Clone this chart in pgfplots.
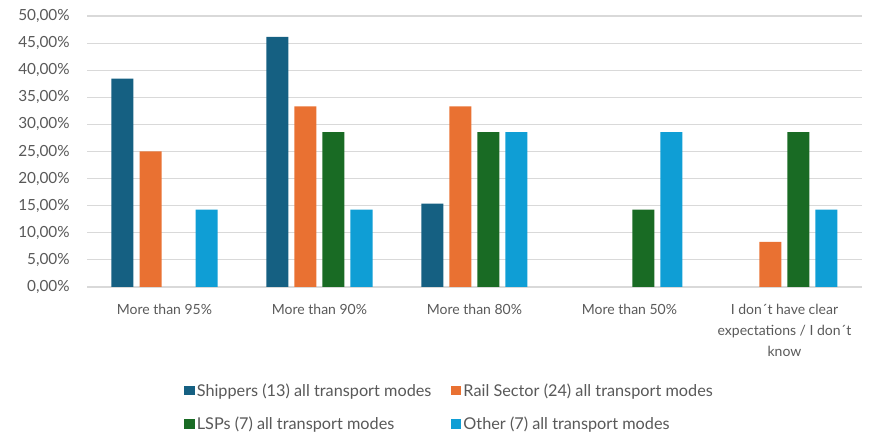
\documentclass[border=0pt]{standalone}
\usepackage{pgfplots}
\pgfplotsset{compat=1.18}
\usepackage{fontspec}
\setmainfont{Lato}
\definecolor{c1}{HTML}{156082}
\definecolor{c2}{HTML}{E97132}
\definecolor{c3}{HTML}{196B24}
\definecolor{c4}{HTML}{0F9ED5}
\definecolor{txt}{HTML}{595959}
\begin{document}
\begin{tikzpicture}[x=1pt,y=1pt]
\path[use as bounding box] (0,0) rectangle (651.75,324);
\begin{axis}[
  at={(65.25pt,108.75pt)}, anchor=south west,
  width=581.25pt, height=203.25pt, scale only axis,
  ybar=4.5pt, bar width=16.5pt,
  xmin=-0.5, xmax=4.5, ymin=0, ymax=50,
  xtick={0,1,2,3,4},
  xticklabels={More than 95\%, More than 90\%, More than 80\%, More than 50\%, {I don´t have clear\\expectations / I don´t\\know}},
  xticklabel style={align=center, font=\fontsize{10.5}{16}\selectfont, text=txt, yshift=-9pt},
  ytick={0,5,...,50},
  yticklabel={\pgfmathprintnumber[fixed,fixed zerofill,precision=2,use comma,assume math mode=true]{\tick}\%},
  yticklabel style={font=\fontsize{11.5}{13}\selectfont, text=txt, xshift=-9.5pt},
  ymajorgrids, grid style={draw=black!15, line width=0.8pt},
  axis line style={draw=none},
  major tick length=0pt,
  legend columns=2,
  legend cell align=left,
  legend style={at={(0.125,-0.345)}, anchor=north west, draw=none, inner sep=0pt, font=\fontsize{12.2}{14}\selectfont, text=txt,
    nodes={inner xsep=1.5pt},
    /tikz/every even column/.append style={column sep=13pt}, row sep=10pt},
  legend image code/.code={\fill[#1] (0pt,-3.4pt) rectangle (8pt,3.8pt);},
]
\addplot[fill=c1, draw=none] coordinates {(0,38.46) (1,46.15) (2,15.38)};
\addplot[fill=c2, draw=none] coordinates {(0,25) (1,33.33) (2,33.33) (4,8.33)};
\addplot[fill=c3, draw=none] coordinates {(1,28.57) (2,28.57) (3,14.29) (4,28.57)};
\addplot[fill=c4, draw=none] coordinates {(0,14.29) (1,14.29) (2,28.57) (3,28.57) (4,14.29)};
\legend{Shippers (13) all transport modes, Rail Sector (24) all transport modes, LSPs (7) all transport modes, Other (7) all transport modes}
\end{axis}
\end{tikzpicture}
\end{document}
